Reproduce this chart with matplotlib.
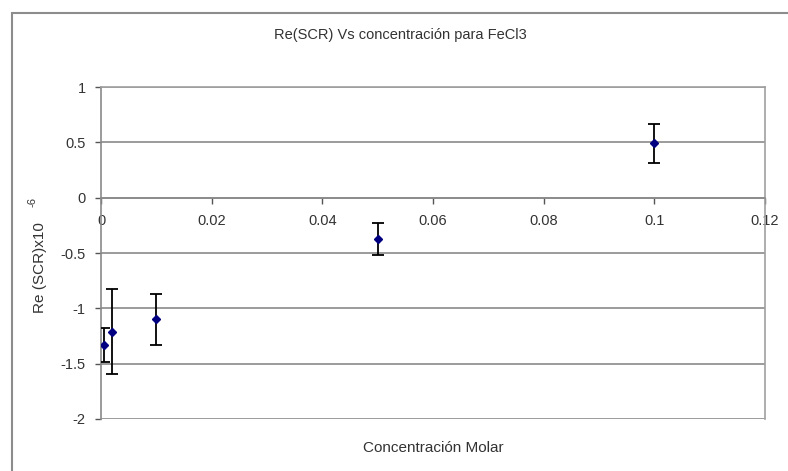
import matplotlib
matplotlib.use("Agg")
import matplotlib.pyplot as plt
from matplotlib.patches import Rectangle

concentration = [0.0005, 0.002, 0.01, 0.05, 0.1]
re_scr = [-1.33, -1.21, -1.10, -0.37, 0.49]
err = [0.155, 0.385, 0.23, 0.145, 0.18]
x_ticks = [0, 0.02, 0.04, 0.06, 0.08, 0.1, 0.12]
x_tick_labels = ["0", "0.02", "0.04", "0.06", "0.08", "0.1", "0.12"]
y_ticks = [1, 0.5, 0, -0.5, -1, -1.5, -2]
y_tick_labels = ["1", "0.5", "0", "-0.5", "-1", "-1.5", "-2"]

plt.rcParams['font.family'] = ['Liberation Sans', 'DejaVu Sans']
plt.rcParams['axes.unicode_minus'] = False

fig = plt.figure(figsize=(7.88, 4.71), dpi=100)
fig.patch.set_facecolor('white')
W, H = 788, 471
ax = fig.add_axes([101 / W, 1 - 419 / H, (765 - 101) / W, (419 - 87) / H])

# outer chart border
fig.patches.append(Rectangle((12 / W, -0.05), 1.1, 1 - 13 / H + 0.05,
                             transform=fig.transFigure, fill=False,
                             edgecolor='#8c8c8c', linewidth=1.5))

ax.set_xlim(0, 0.12)
ax.set_ylim(-2, 1)

for yv in y_ticks:
    ax.axhline(yv, color='#8a8a8a', linewidth=1.2, zorder=1)

ax.errorbar(concentration, re_scr, yerr=err, fmt='D', color='#000080',
            markersize=4.5, ecolor='black', elinewidth=1.3, capsize=4,
            capthick=1.3, zorder=3)

ax.spines['bottom'].set_position(('data', 0))
for s in ['top', 'right']:
    ax.spines[s].set_color('#a0a0a0')
    ax.spines[s].set_linewidth(1.2)
ax.spines['bottom'].set_color('#8a8a8a')
ax.spines['left'].set_color('#8a8a8a')
ax.spines['left'].set_linewidth(1.2)
ax.spines['bottom'].set_linewidth(1.2)

ax.set_xticks(x_ticks)
ax.set_xticklabels(x_tick_labels)
ax.set_yticks(y_ticks)
ax.set_yticklabels(y_tick_labels)
ax.tick_params(axis='both', colors='#555555', labelcolor='#333333',
               labelsize=10.5, length=4, width=1)
ax.tick_params(axis='x', pad=8)
ax.tick_params(axis='y', pad=7)

fig.text(400 / W, 1 - 35 / H, "Re(SCR) Vs concentración para FeCl3",
         ha='center', va='center', fontsize=10.5, color='#333333')
fig.text(433 / W, 1 - 448 / H, "Concentración Molar",
         ha='center', va='center', fontsize=11, color='#333333')
fig.text(40 / W, 1 - 268 / H, "Re (SCR)x10", rotation=90,
         ha='center', va='center', fontsize=11, color='#333333')
fig.text(33 / W, 1 - 202 / H, "-6", rotation=90,
         ha='center', va='center', fontsize=8, color='#333333')

fig.savefig("out.png", dpi=100, facecolor='white')
